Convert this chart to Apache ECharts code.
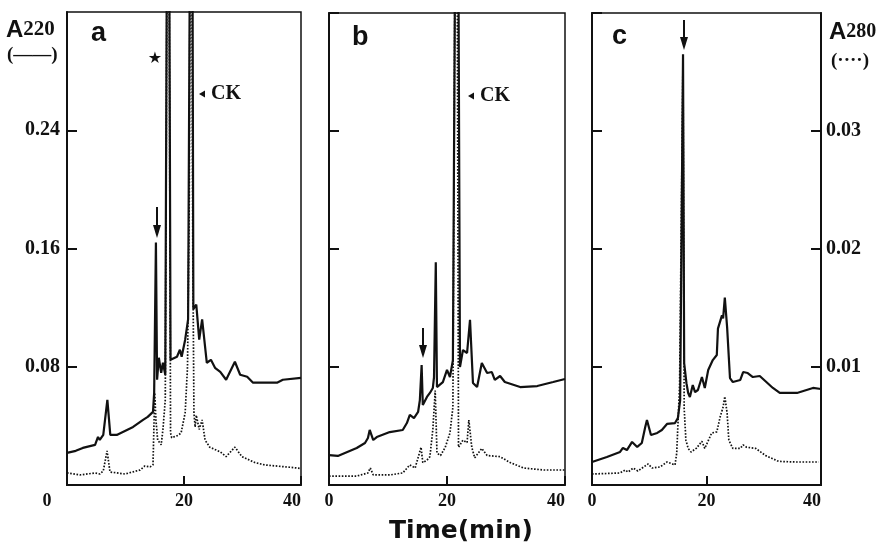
<!DOCTYPE html>
<html>
<head>
<meta charset="utf-8">
<script src="https://cdn.jsdelivr.net/npm/echarts@6/dist/echarts.min.js"></script>
<style>
html,body{margin:0;padding:0;background:#fff;}
#chart{width:883px;height:544px;}
</style>
</head>
<body>
<div id="chart"></div>
<script>
// ---------- data (time in min, A220 and A280 absorbance) ----------
const xTicks = [0, 20, 40];
const leftTicks = [0.08, 0.16, 0.24];
const rightTicks = [0.01, 0.02, 0.03];

// Panel a
const tA_220 = [0,1.5,2.7,4.8,5.3,5.6,6.2,6.9,7.4,8.5,11.3,13.0,13.8,14.7,14.9,15.2,15.4,15.7,16.1,16.4,16.8,17.3,17.7,18.8,19.3,19.6,20.2,20.7,21.3,21.6,22.1,22.6,23.1,23.9,24.6,25.3,26.2,27.2,28.7,29.6,30.8,31.8,35.9,36.9,40];
const vA_220 = [0.0217,0.0231,0.0251,0.0271,0.0325,0.0305,0.0339,0.0576,0.0339,0.0339,0.0393,0.0441,0.0461,0.0495,0.0624,0.164,0.0712,0.0861,0.0759,0.0827,0.0746,0.6,0.0847,0.0868,0.0915,0.0868,0.0983,0.112,0.6,0.119,0.122,0.0983,0.112,0.0827,0.0847,0.0793,0.0766,0.0712,0.0834,0.0746,0.0732,0.0692,0.0692,0.0712,0.0725];
const tA_280 = [0,2.2,4.8,5.6,6.2,6.85,7.35,9.9,12.5,13.3,14.2,14.7,15.0,15.2,15.5,16.1,16.4,16.8,17.3,17.7,17.9,19.0,19.5,20.2,20.6,20.9,21.2,21.5,21.7,21.9,22.1,22.6,23.1,23.6,24.4,26.2,27.2,28.7,29.9,32.1,33.8,38.1,40];
const vA_280 = [0.00102,0.00085,0.00102,0.00093,0.00119,0.00288,0.0011,0.00093,0.00127,0.00161,0.00153,0.0017,0.0078,0.0055,0.0038,0.0034,0.0047,0.0072,0.07,0.0044,0.004,0.0042,0.0044,0.0061,0.01,0.024,0.07,0.02,0.0061,0.0049,0.0059,0.0047,0.0055,0.0038,0.0032,0.0028,0.0024,0.0032,0.0024,0.0019,0.0017,0.0015,0.0014];

// Panel b
const tB_220 = [0,1.5,4.7,6.1,6.6,6.9,7.5,8.1,10.3,12.5,13.2,13.7,14.4,15.1,15.4,15.7,15.9,16.6,17.1,17.6,17.8,18.1,18.3,19.3,20.0,20.5,21.0,21.7,22.2,22.7,23.4,23.9,24.4,25.1,25.9,26.8,27.6,28.1,29.0,29.8,32.4,35.3,38.0,40];
const vB_220 = [0.0203,0.0197,0.0251,0.0285,0.0319,0.0373,0.0305,0.0325,0.0359,0.0373,0.042,0.0475,0.0454,0.0495,0.0576,0.0814,0.0542,0.0597,0.0624,0.0658,0.0732,0.151,0.0664,0.0698,0.078,0.0732,0.0847,0.6,0.08,0.0915,0.0895,0.112,0.0692,0.0664,0.0827,0.0759,0.0766,0.0712,0.0739,0.0698,0.0664,0.0671,0.0698,0.0719];
const tB_280 = [0,4.7,6.6,7.0,7.5,10.3,12.5,13.7,14.6,15.6,15.9,16.6,17.1,17.6,18.0,18.3,18.9,19.7,20.5,21.0,21.6,21.95,22.2,22.7,23.4,23.7,24.2,24.7,25.9,26.8,29.0,30.7,33.0,36.4,40];
const vB_280 = [0.00076,0.00076,0.00102,0.00144,0.00085,0.00085,0.00102,0.0017,0.00144,0.0032,0.0019,0.0021,0.0024,0.0047,0.008,0.0027,0.0025,0.0032,0.0044,0.0066,0.07,0.0032,0.0031,0.0038,0.0036,0.0055,0.0032,0.0023,0.0031,0.0025,0.0024,0.0019,0.00144,0.00127,0.00127];

// Panel c
const tC_220 = [0,2.6,4.9,5.4,6.1,7.0,7.9,8.7,9.3,9.6,10.3,11.4,12.2,13.1,14.5,15.0,15.4,15.9,16.1,16.5,16.8,17.1,17.6,18.0,18.5,19.2,19.7,20.3,21.1,21.8,22.0,22.7,22.9,23.2,23.6,24.1,24.6,25.9,26.4,27.2,28.1,29.3,31.6,32.8,35.8,38.6,40];
const vC_220 = [0.0156,0.019,0.0224,0.0251,0.0237,0.0292,0.0258,0.0285,0.0393,0.0441,0.0339,0.0353,0.0373,0.0414,0.042,0.0454,0.0576,0.292,0.0827,0.069,0.0624,0.0597,0.0678,0.063,0.0644,0.0732,0.0658,0.078,0.0847,0.0881,0.106,0.115,0.113,0.127,0.107,0.0725,0.0698,0.0712,0.0766,0.0759,0.0732,0.0739,0.0658,0.0624,0.0624,0.0658,0.0651];
const tC_280 = [0,4.9,5.8,6.3,7.2,8.0,9.8,10.5,11.9,13.1,14.5,14.8,15.3,15.9,16.1,16.4,16.8,17.3,18.2,18.5,19.2,19.7,20.9,21.8,22.4,22.9,23.2,23.6,23.9,24.6,25.9,26.4,27.0,28.6,30.3,32.6,35.6,39.6];
const vC_280 = [0.00093,0.00102,0.00127,0.0011,0.00144,0.00119,0.00178,0.00144,0.00153,0.00195,0.0017,0.0027,0.0085,0.0364,0.0065,0.0038,0.0031,0.0028,0.0031,0.0031,0.0037,0.0031,0.0044,0.0045,0.0058,0.0066,0.0075,0.0061,0.0038,0.0031,0.0031,0.0034,0.0032,0.0031,0.0025,0.002,0.00195,0.00195];

const panelLetters = ['a', 'b', 'c'];

// ---------- build ----------
const zip = (t, v) => t.map((x, i) => [x, v[i]]);
const solid = [zip(tA_220, vA_220), zip(tB_220, vB_220), zip(tC_220, vC_220)];
const dotted = [zip(tA_280, vA_280), zip(tB_280, vB_280), zip(tC_280, vC_280)];

const INK = '#111';
const SERIF = '"Liberation Serif", "DejaVu Serif", serif';
const SANS = '"Liberation Sans", Arial, sans-serif';

const grids = [
  {left: 67, top: 12, width: 234, height: 473},
  {left: 329, top: 13, width: 236, height: 472},
  {left: 592, top: 13, width: 229, height: 472}
].map(g => Object.assign({show: true, borderColor: INK, borderWidth: 1.5, backgroundColor: '#fff'}, g));

const xAxes = [0, 1, 2].map(i => ({
  type: 'value', gridIndex: i, min: xTicks[0], max: xTicks[xTicks.length - 1], interval: xTicks[1] - xTicks[0],
  axisLine: {show: true, lineStyle: {color: INK, width: 2}},
  axisTick: {show: true, inside: true, length: 9, lineStyle: {color: INK, width: 2}},
  splitLine: {show: false},
  axisLabel: {
    color: INK, fontFamily: SERIF, fontWeight: 'bold', fontSize: 18, margin: 7,
    alignMaxLabel: 'right',
    formatter: v => (i === 0 && v === 0) ? '{l|0}' : String(v),
    rich: {l: {padding: [0, 40, 0, 0], color: INK, fontFamily: SERIF, fontWeight: 'bold', fontSize: 18}}
  }
}));

const yAxes = [];
[0, 1, 2].forEach(i => {
  yAxes.push({
    type: 'value', gridIndex: i, position: 'left', min: 0, max: 0.32, interval: leftTicks[0],
    axisLine: {show: true, lineStyle: {color: INK, width: 2}},
    axisTick: {show: true, inside: true, length: 10, lineStyle: {color: INK, width: 2}},
    splitLine: {show: false},
    axisLabel: {show: i === 0, showMinLabel: false, showMaxLabel: false, color: INK,
      fontFamily: SERIF, fontWeight: 'bold', fontSize: 20, margin: 7,
      formatter: v => v.toFixed(2)}
  });
});
[0, 1, 2].forEach(i => {
  yAxes.push({
    type: 'value', gridIndex: i, position: 'right', min: 0, max: 0.04, interval: rightTicks[0],
    show: i === 2,
    axisLine: {show: true, lineStyle: {color: INK, width: 2}},
    axisTick: {show: true, inside: true, length: 10, lineStyle: {color: INK, width: 2}},
    splitLine: {show: false},
    axisLabel: {show: true, showMinLabel: false, showMaxLabel: false, color: INK,
      fontFamily: SERIF, fontWeight: 'bold', fontSize: 20, margin: 5,
      formatter: v => v.toFixed(2)}
  });
});

const series = [];
[0, 1, 2].forEach(i => {
  series.push({
    type: 'line', name: 'A220 ' + panelLetters[i], xAxisIndex: i, yAxisIndex: i,
    data: solid[i], showSymbol: false, clip: true, silent: true,
    lineStyle: {color: INK, width: 2.2}, z: 3
  });
  series.push({
    type: 'line', name: 'A280 ' + panelLetters[i], xAxisIndex: i, yAxisIndex: 3 + i,
    data: dotted[i], showSymbol: false, clip: true, silent: true,
    lineStyle: {color: INK, width: 1.7, type: [1.6, 1.6]}, z: 2
  });
});

function arrow(x, y1, y2) {
  return [
    {type: 'line', shape: {x1: x, y1: y1, x2: x, y2: y2 - 8}, style: {stroke: INK, lineWidth: 2}, z: 10},
    {type: 'polygon', shape: {points: [[x - 4, y2 - 13], [x + 4, y2 - 13], [x, y2]]}, style: {fill: INK}, z: 10}
  ];
}
function ckMark(x, y) {
  return [
    {type: 'polygon', shape: {points: [[x, y], [x + 6, y - 3.5], [x + 6, y + 3.5]]}, style: {fill: INK}, z: 10},
    {type: 'text', x: x + 12, y: y, style: {text: 'CK', fill: INK, font: 'bold 20px ' + SERIF, verticalAlign: 'middle', align: 'left'}, z: 10}
  ];
}

const graphic = [].concat(
  [
    {type: 'text', x: 91, y: 34, style: {text: 'a', fill: INK, font: 'bold 27px ' + SANS, verticalAlign: 'middle'}, z: 10},
    {type: 'text', x: 352, y: 38, style: {text: 'b', fill: INK, font: 'bold 27px ' + SANS, verticalAlign: 'middle'}, z: 10},
    {type: 'text', x: 612, y: 37, style: {text: 'c', fill: INK, font: 'bold 27px ' + SANS, verticalAlign: 'middle'}, z: 10},
    {type: 'text', x: 155, y: 59, style: {text: '★', fill: INK, font: '16px "DejaVu Sans"', verticalAlign: 'middle', align: 'center'}, z: 10},
    {type: 'text', x: 6, y: 30, style: {
      text: '{a|A}{n|220}', verticalAlign: 'middle',
      rich: {a: {font: 'bold 24px ' + SANS, fill: INK}, n: {font: 'bold 21px ' + SERIF, fill: INK}}
    }, z: 10},
    {type: 'text', x: 7, y: 55, style: {text: '(——)', fill: INK, font: 'bold 19px ' + SERIF, verticalAlign: 'middle'}, z: 10},
    {type: 'text', x: 829, y: 32, style: {
      text: '{a|A}{n|280}', verticalAlign: 'middle',
      rich: {a: {font: 'bold 24px ' + SANS, fill: INK}, n: {font: 'bold 20px ' + SERIF, fill: INK}}
    }, z: 10},
    {type: 'text', x: 831, y: 61, style: {text: '(····)', fill: INK, font: 'bold 19px ' + SERIF, verticalAlign: 'middle'}, z: 10},
    {type: 'text', x: 461, y: 531, style: {text: 'Time(min)', fill: INK, font: 'bold 25px "DejaVu Sans"', verticalAlign: 'middle', align: 'center'}, z: 10}
  ],
  arrow(157, 207, 238),
  arrow(423, 328, 358),
  arrow(684, 20, 50),
  ckMark(199, 94),
  ckMark(468, 96)
);

const chart = echarts.init(document.getElementById('chart'), null, {renderer: 'canvas'});
chart.setOption({
  animation: false,
  backgroundColor: '#fff',
  grid: grids,
  xAxis: xAxes,
  yAxis: yAxes,
  series: series,
  graphic: graphic
});
</script>
</body>
</html>
